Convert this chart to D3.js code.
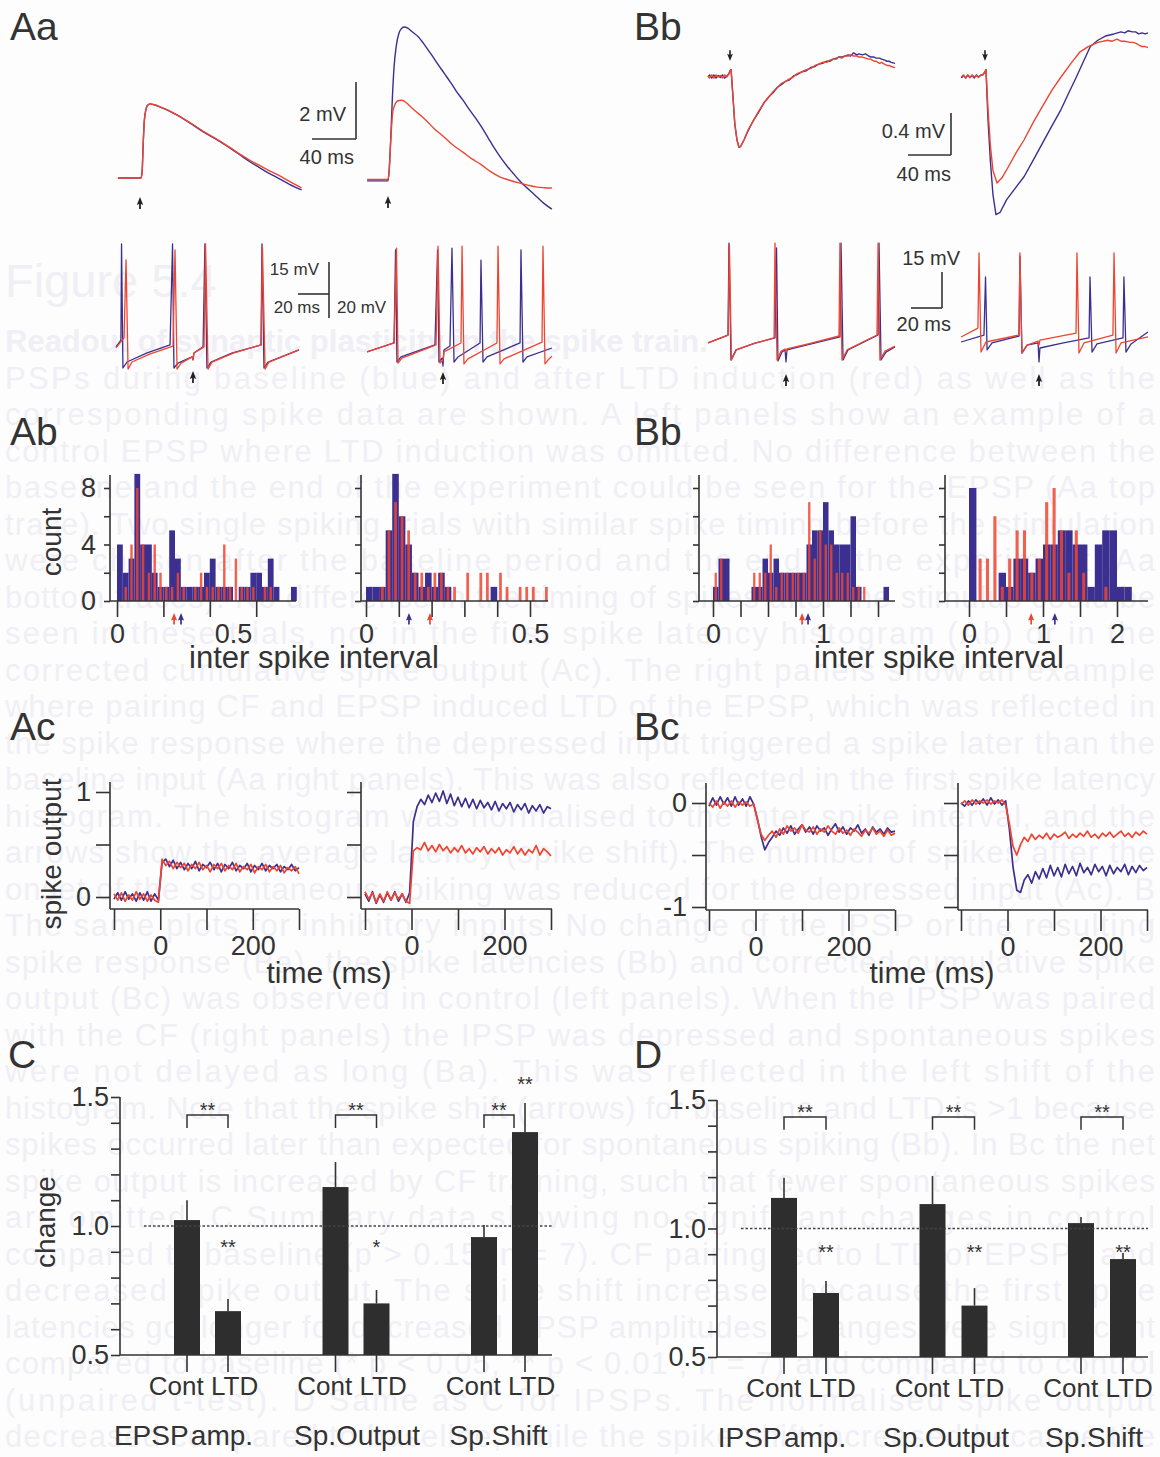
<!DOCTYPE html>
<html><head><meta charset="utf-8">
<script src="https://cdn.jsdelivr.net/npm/d3@7"></script>
<style>
html,body{margin:0;padding:0;background:#fdfdfd;}
svg{display:block;}
text{font-family:"Liberation Sans",Arial,Helvetica,sans-serif;}
</style></head><body>
<svg id="fig" width="1160" height="1457"></svg>
<script>
// ---------- palette ----------
const INK = "#333333", BASE = "#3b2f8f", LTD = "#ee4530", BAR = "#2e2e2e", GHOST = "#f0eff5";

// ---------- legend text printed behind the figure ----------
const legendTitle = "Figure 5.4";
const legendLines = [
 "Readout of synaptic plasticity in the spike train.",
 "PSPs during baseline (blue) and after LTD induction (red) as well as the",
 "corresponding spike data are shown. A left panels show an example of a",
 "control EPSP where LTD induction was omitted. No difference between the",
 "baseline and the end of the experiment could be seen for the EPSP (Aa top",
 "trace). Two single spiking trials with similar spike timing before the stimulation",
 "were chosen after the baseline period and the end of the experiment (Aa",
 "bottom traces). No difference in the timing of spikes after the stimulus could be",
 "seen in these trials, nor in the first spike latency histogram (Ab) or in the",
 "corrected cumulative spike output (Ac). The right panels show an example",
 "where pairing CF and EPSP induced LTD of the EPSP, which was reflected in",
 "the spike response where the depressed input triggered a spike later than the",
 "baseline input (Aa right panels). This was also reflected in the first spike latency",
 "histogram. The histogram was normalised to the inter spike interval, and the",
 "arrows show the average latency (spike shift). The number of spikes after the",
 "onset of the spontaneous spiking was reduced for the depressed input (Ac). B",
 "The same plots for inhibitory inputs. No change of the IPSP or the resulting",
 "spike response (Ba), the spike latencies (Bb) and corrected cumulative spike",
 "output (Bc) was observed in control (left panels). When the IPSP was paired",
 "with the CF (right panels) the IPSP was depressed and spontaneous spikes",
 "were not delayed as long (Ba). This was reflected in the left shift of the",
 "histogram. Note that the spike shift (arrows) for baseline and LTD is >1 because",
 "spikes occurred later than expected for spontaneous spiking (Bb). In Bc the net",
 "spike output is increased by CF training, such that fewer spontaneous spikes",
 "are omitted. C Summary data showing no significant changes in control",
 "compared to baseline (p > 0.15, n = 7). CF pairing led to LTD of EPSPs and",
 "decreased spike output. The spike shift increased because the first spike",
 "latencies got longer for decreased EPSP amplitudes. Changes were significant",
 "compared to baseline (* p < 0.05, ** p < 0.01 , n = 7) and compared to control",
 "(unpaired t-test). D Same as C for IPSPs. The normalised spike output",
 "decreased compared to baseline, while the spike shift increased because the"
];

// ---------- Aa: EPSPs [ms, mV] ----------
const aaEpspCtrlBase = [[-21,0],[0,0],[1,0.2],[2,1.2],[3,2.0],[4.5,2.4],[6,2.55],[8.2,2.6],[12,2.57],[18,2.48],[24,2.38],[32,2.22],[40,2.04],[48,1.84],[57,1.61],[65,1.43],[74,1.22],[82,1.02],[91,0.78],[99,0.57],[107,0.38],[116,0.17],[125,-0.01],[135,-0.22],[146,-0.42]];
const aaEpspCtrlLtd  = [[-21,0],[0,0],[1,0.2],[2,1.2],[3,2.0],[4.5,2.4],[6,2.55],[8.2,2.6],[12,2.57],[18,2.49],[24,2.39],[32,2.23],[40,2.05],[48,1.86],[57,1.63],[65,1.45],[74,1.24],[82,1.04],[91,0.81],[99,0.62],[107,0.46],[116,0.27],[125,0.1],[135,-0.12],[146,-0.35]];
const aaEpspPairBase = [[-19,-0.03],[0,-0.03],[1,0.3],[2.7,1.65],[4,2.9],[5.5,3.96],[7.5,4.7],[10,5.16],[12,5.3],[14.5,5.37],[18,5.33],[22,5.2],[27.7,5.02],[34,4.7],[40,4.37],[45,4.08],[51,3.75],[57,3.42],[62,3.12],[68,2.81],[74,2.47],[80,2.15],[85,1.86],[91,1.48],[96,1.16],[102,0.81],[108,0.5],[113,0.27],[119,0.0],[125,-0.23],[130,-0.4],[135.5,-0.6],[142,-0.83],[149,-1.02]];
const aaEpspPairLtd  = [[-19,0.02],[0,0.02],[1,0.3],[2.7,1.5],[4.2,2.35],[6,2.62],[7.6,2.74],[10,2.79],[12.7,2.8],[17,2.7],[22,2.52],[28,2.32],[34.5,2.1],[42,1.8],[51,1.51],[59,1.23],[68,0.98],[76,0.75],[85,0.53],[93,0.3],[102,0.1],[110,0.0],[119,-0.1],[127,-0.18],[135.5,-0.25],[142,-0.27],[149,-0.28]];

// ---------- Aa: spike trains [ms, mV] ----------
const aaSpkCtrlBase = [[-49.7,-60.1],[-46.5,-56.9],[-46.1,-11.8],[-45.2,-70],[-42.6,-67.2],[-30,-63],[-14.8,-59.2],[-13.2,-11.8],[-12.3,-70],[-9.7,-67.7],[-0.6,-64.8],[0,-66.2],[0.6,-63],[6.5,-60.1],[7.7,-11.8],[9,-70],[11.6,-67.2],[25,-63],[43.9,-59.2],[44.5,-11.8],[45.8,-70],[48.4,-67.2],[68.4,-61.5]];
const aaSpkCtrlLtd  = [[-49.7,-60.6],[-44.5,-55.9],[-43.2,-19.3],[-41.9,-70.5],[-39.4,-67.2],[-28,-63.5],[-12.9,-59.7],[-11.6,-14.6],[-10.3,-70.5],[-7.7,-67.7],[-0.6,-64.8],[0,-66.2],[0.6,-63],[7.1,-60.1],[8.1,-11.8],[9.7,-70.5],[12.3,-67.2],[26,-63],[43.9,-59.2],[44.8,-13.2],[46.5,-70.5],[49,-67.2],[68.4,-61.5]];
const aaSpkPairBase = [[-49,-66.4],[-31.6,-63.2],[-30.6,-30],[-29.7,-70],[-27.1,-68.2],[-5.2,-63.9],[-3.5,-30],[-2.6,-70],[-0.6,-68.6],[0,-71.4],[0.6,-65.7],[4.5,-64.3],[5.8,-29.3],[7.1,-70],[9.7,-68.2],[23.9,-63.2],[24.5,-33.6],[25.8,-70],[28.4,-68.2],[49.7,-63.2],[50.3,-30],[51.6,-70],[54.2,-68.2],[70.3,-65]];
const aaSpkPairLtd  = [[-49,-66.4],[-31.6,-63.2],[-30,-29.3],[-29,-70.4],[-26.5,-68.6],[-4.5,-63.9],[-3.2,-28.6],[-1.9,-70.4],[0,-69.3],[0.6,-66.4],[11.6,-63.2],[12.3,-28.6],[13.5,-70.7],[16.1,-68.9],[34.8,-63.2],[35.5,-28.6],[36.8,-70.7],[39.4,-68.9],[63.9,-62.9],[64.5,-28.6],[65.8,-70.7],[68.4,-68.9],[70.3,-67.9]];

// ---------- Bb: IPSPs [ms, mV] ----------
const bbIpspCtrlBase = [[-20.5,0],[-19,0.02],[-17,-0.01],[-15,0.02],[-13,-0.01],[-11,0.015],[-9,-0.005],[-7,0.02],[-5,-0.01],[-3,0.01],[-1,0.03],[0,0.06],[1,0.07],[2.5,-0.15],[4.5,-0.45],[6.5,-0.6],[8.4,-0.67],[10,-0.66],[13,-0.6],[17,-0.51],[22,-0.41],[27,-0.33],[32,-0.24],[36,-0.19],[40,-0.15],[44,-0.1],[48,-0.07],[52,-0.04],[55,-0.03],[59,0.01],[62,0.02],[67,0.05],[71,0.06],[75,0.09],[79,0.1],[82,0.12],[86,0.13],[90,0.15],[93,0.15],[96,0.17],[99,0.18],[101,0.19],[104,0.19],[107,0.2],[110,0.21],[112,0.2],[115,0.23],[118,0.21],[120,0.22],[123,0.21],[126,0.22],[129,0.2],[131,0.19],[134,0.19],[136,0.18],[139,0.18],[141,0.17],[144,0.16],[146,0.15],[148,0.15],[150,0.14],[153.5,0.13]];
const bbIpspCtrlLtd  = [[-20.5,0.01],[-19,-0.01],[-17,0.02],[-15,-0.01],[-13,0.02],[-11,0.0],[-9,0.015],[-7,-0.01],[-5,0.02],[-3,0.0],[-1,0.03],[0,0.06],[1,0.07],[2.5,-0.15],[4.5,-0.45],[6.5,-0.6],[8.4,-0.67],[10,-0.66],[13,-0.6],[17,-0.5],[22,-0.41],[27,-0.32],[32,-0.24],[36,-0.19],[40,-0.14],[44,-0.1],[48,-0.06],[52,-0.04],[55,-0.02],[59,0.0],[62,0.03],[67,0.05],[71,0.07],[75,0.08],[79,0.11],[82,0.12],[86,0.14],[90,0.14],[93,0.16],[96,0.17],[99,0.17],[101,0.19],[104,0.18],[107,0.2],[110,0.2],[112,0.21],[115,0.2],[118,0.2],[120,0.19],[123,0.19],[126,0.18],[129,0.17],[131,0.17],[134,0.15],[136,0.15],[139,0.13],[141,0.14],[144,0.12],[146,0.11],[148,0.11],[150,0.1],[153.5,0.09]];
const bbIpspPairBase = [[-22,-0.01],[-20,0.015],[-18,-0.01],[-16,0.02],[-14,-0.005],[-12,0.015],[-10,-0.01],[-8,0.02],[-6,0.0],[-4,0.015],[-2,0.02],[0,0.05],[0.9,0.07],[2.8,-0.41],[5,-0.8],[7.4,-1.12],[10.2,-1.31],[14,-1.29],[20,-1.17],[28,-1.06],[36.3,-0.95],[45,-0.79],[54,-0.62],[62,-0.47],[70.7,-0.31],[78,-0.15],[85,0.0],[92.1,0.16],[98,0.29],[105,0.35],[112,0.39],[116,0.4],[120,0.41],[126.5,0.43],[130,0.42],[133,0.44],[137,0.43],[140,0.43],[143,0.41],[146,0.42],[149,0.41],[151.6,0.42]];
const bbIpspPairLtd  = [[-22,0.0],[-20,0.02],[-18,-0.01],[-16,0.015],[-14,-0.005],[-12,0.02],[-10,0.0],[-8,0.015],[-6,-0.005],[-4,0.02],[-2,0.02],[0,0.05],[0.9,0.07],[2.8,-0.31],[5,-0.65],[7.4,-0.89],[11.2,-1.01],[15.8,-0.96],[22,-0.85],[29,-0.72],[36.3,-0.6],[45,-0.43],[54,-0.27],[62,-0.13],[70.7,0.0],[80,0.13],[88.4,0.24],[96,0.29],[105,0.33],[114,0.35],[118,0.34],[122.8,0.36],[127,0.34],[130,0.34],[135,0.33],[138,0.33],[140.5,0.32],[144,0.3],[146,0.29],[149,0.29],[151.6,0.28]];

// ---------- Bb: spike trains [ms, mV] ----------
const bbSpkCtrlBase = [[-50.3,-62.9],[-37.4,-59.6],[-36.8,-21.3],[-35.5,-70],[-32.3,-65.8],[-20,-63],[-7.1,-60.8],[-6.1,-23.3],[-5.2,-70.4],[-2.6,-66.7],[-0.6,-65.8],[0,-70.8],[0.6,-65.8],[15,-63.5],[34.8,-60.4],[35.5,-21.3],[36.8,-70],[40,-65.8],[59.4,-59.6],[60,-21.3],[61.3,-70],[64.5,-66.7],[70.3,-64.6]];
const bbSpkCtrlLtd  = [[-50.3,-62.9],[-37.4,-59.6],[-36.5,-22],[-35.2,-70],[-32,-65.8],[-20,-63],[-7.7,-60.8],[-7.1,-21.3],[-5.8,-70],[-3.2,-66.3],[-0.6,-65.4],[0,-66.7],[0.6,-65.4],[15,-63.2],[34.2,-60],[34.8,-21.3],[36.1,-70],[39.4,-65.8],[58.7,-59.6],[59.4,-21.3],[60.6,-70],[63.9,-66.3],[70.3,-64.2]];
const bbSpkPairBase = [[-50.3,-62.5],[-35.5,-59.6],[-34.5,-35.4],[-33.5,-65.8],[-30.3,-62.9],[-12.9,-60],[-12.3,-26.7],[-11,-67.1],[-7.7,-63.8],[-0.6,-62.9],[0,-70.8],[0.6,-65],[15,-63],[32.3,-60.8],[32.9,-35.4],[34.2,-66.7],[37.4,-63.3],[54.2,-60.8],[54.8,-35.4],[56.1,-66.7],[59.4,-63.3],[70.3,-58.3]];
const bbSpkPairLtd  = [[-50.3,-60.4],[-39.4,-56.7],[-38.7,-25.4],[-37.4,-66.7],[-34.2,-62.5],[-12.9,-59.6],[-12.3,-25.4],[-11,-67.1],[-7.7,-63.8],[-0.6,-62.1],[0,-63.8],[0.6,-61.7],[23.9,-58.8],[24.5,-25.4],[25.8,-67.1],[29,-62.9],[47.7,-59.6],[48.4,-25.4],[49.7,-67.1],[52.9,-62.9],[70.3,-60.4]];

// ---------- Ab / Bb: inter spike interval histograms (counts) ----------
const abCtrlBinWidth = 0.025;
const abCtrlBase = [4,2,3,9,4,4,2,1,1,5,3,1,1,1,1,2,3,1,1,1,0,1,1,2,2,1,3,1,0,0,1];
const abCtrlLtd  = [0,1,4,8,4,2,4,2,1,1,2,1,0,1,2,1,1,1,4,1,3,1,1,1,0,1,1,0,0,0,0];
const abPairBinWidth = 0.02;
const abPairBase = [1,1,1,5,9,6,4,2,1,2,1,2,1,0,0,0,0,0,0,1,0,0,0,0,0,0,0,0];
const abPairLtd  = [0,0,1,5,7,6,5,2,2,1,2,2,1,1,0,2,0,2,2,0,2,1,0,1,1,1,0,1];
const bbCtrlBinWidth = 0.05;
const bbCtrlBase = [1,3,3,0,0,0,0,1,1,3,2,3,2,2,2,2,2,4,5,5,7,5,4,4,4,6,1,0,0,0,0,1];
const bbCtrlLtd  = [2,3,0,0,0,0,0,2,2,2,4,1,2,2,2,2,2,7,3,5,4,4,2,2,2,1,1,1,0,0,0,0];
const bbPairBinWidth = 0.1;
const bbPairBase = [8,0,0,0,2,1,3,3,2,3,4,4,5,5,4,4,1,4,5,5,1,1];
const bbPairLtd  = [0,3,3,6,1,3,5,5,2,3,7,8,5,2,5,2,0,0,1,0,0,0];
// mean spike shift markers [control panel, paired panel]
const abShiftBase = [0.276, 0.131], abShiftLtd = [0.246, 0.195];
const bbShiftBase = [0.864, 1.16],  bbShiftLtd = [0.81, 0.84];

// ---------- Ac / Bc: corrected cumulative spike output, sampled every 8 ms ----------
const cumTime = d3.range(-100, 301, 8);
const acCtrlBase = [-0.02,0.04,-0.03,0.05,-0.02,0.03,-0.04,0.04,-0.03,0.05,
 -0.04,0.03,-0.03,0.33,0.36,0.29,0.35,0.27,0.33,0.26,
 0.32,0.27,0.34,0.25,0.31,0.28,0.33,0.26,0.32,0.24,
 0.31,0.27,0.33,0.25,0.30,0.27,0.32,0.24,0.30,0.26,
 0.32,0.25,0.30,0.27,0.31,0.24,0.29,0.26,0.31,0.25,0.28];
const acCtrlLtd = [0.03,-0.03,0.04,-0.04,0.02,-0.03,0.05,-0.02,0.03,-0.04,
 0.02,-0.03,-0.05,0.36,0.30,0.34,0.27,0.33,0.28,0.32,
 0.25,0.31,0.27,0.33,0.26,0.30,0.24,0.31,0.27,0.32,
 0.25,0.30,0.26,0.32,0.24,0.29,0.26,0.31,0.23,0.29,
 0.26,0.31,0.24,0.29,0.25,0.30,0.23,0.28,0.25,0.29,0.22];
const acPairBase = [0.03,-0.04,0.05,-0.06,0.02,-0.05,0.04,-0.03,0.05,-0.04,
 0.03,-0.05,0.04,0.72,0.86,0.93,0.88,0.97,0.90,0.99,
 0.91,1.01,0.89,0.98,0.87,0.95,0.86,0.94,0.85,0.93,
 0.84,0.92,0.85,0.90,0.83,0.91,0.82,0.89,0.84,0.90,
 0.81,0.88,0.83,0.89,0.80,0.87,0.82,0.88,0.80,0.86,0.84];
const acPairLtd = [0.05,-0.02,0.04,-0.05,0.03,-0.04,0.05,-0.03,0.04,-0.02,
 0.03,-0.04,-0.06,0.44,0.47,0.45,0.52,0.44,0.49,0.43,
 0.50,0.44,0.48,0.42,0.47,0.43,0.49,0.42,0.46,0.41,
 0.47,0.43,0.48,0.41,0.46,0.42,0.47,0.40,0.45,0.42,
 0.48,0.41,0.46,0.40,0.45,0.42,0.49,0.40,0.46,0.43,0.39];
const bcCtrlBase = [-0.03,0.05,-0.02,0.06,-0.01,0.05,-0.03,0.06,-0.02,0.04,
 -0.03,0.06,-0.01,-0.15,-0.32,-0.45,-0.38,-0.33,-0.27,-0.31,
 -0.24,-0.29,-0.22,-0.30,-0.25,-0.21,-0.28,-0.23,-0.30,-0.22,
 -0.27,-0.24,-0.31,-0.25,-0.20,-0.28,-0.23,-0.30,-0.24,-0.27,
 -0.21,-0.29,-0.25,-0.31,-0.23,-0.28,-0.25,-0.30,-0.24,-0.28,-0.27];
const bcCtrlLtd = [0.0,-0.04,0.02,-0.05,0.01,-0.03,0.02,-0.04,0.01,-0.02,
 0.01,-0.03,-0.01,-0.16,-0.30,-0.36,-0.31,-0.27,-0.33,-0.25,
 -0.30,-0.22,-0.27,-0.24,-0.29,-0.21,-0.26,-0.28,-0.23,-0.30,
 -0.25,-0.28,-0.22,-0.27,-0.30,-0.24,-0.29,-0.26,-0.31,-0.25,
 -0.28,-0.32,-0.26,-0.29,-0.24,-0.30,-0.27,-0.32,-0.26,-0.31,-0.29];
const bcPairBase = [0.0,-0.03,0.02,-0.02,0.03,-0.01,0.04,-0.02,0.05,-0.01,
 0.03,-0.02,0.02,-0.25,-0.62,-0.84,-0.86,-0.74,-0.69,-0.77,
 -0.66,-0.73,-0.63,-0.72,-0.60,-0.70,-0.62,-0.71,-0.59,-0.68,
 -0.61,-0.70,-0.58,-0.67,-0.62,-0.69,-0.59,-0.66,-0.61,-0.70,
 -0.60,-0.68,-0.62,-0.66,-0.59,-0.69,-0.61,-0.67,-0.60,-0.65,-0.62];
const bcPairLtd = [-0.01,0.02,-0.02,0.03,-0.01,0.02,0.0,0.03,-0.01,0.02,
 0.0,0.03,-0.02,-0.20,-0.42,-0.50,-0.40,-0.33,-0.37,-0.30,
 -0.35,-0.31,-0.34,-0.29,-0.35,-0.30,-0.33,-0.31,-0.28,-0.34,
 -0.30,-0.33,-0.29,-0.32,-0.27,-0.33,-0.30,-0.34,-0.29,-0.32,
 -0.28,-0.33,-0.30,-0.27,-0.32,-0.29,-0.33,-0.28,-0.31,-0.27,-0.30];

// ---------- C / D: normalised summary (mean, SEM) ----------
const condNames = ["Cont", "LTD"];
const cGroups = ["EPSP amp.", "Sp.Output", "Sp.Shift"];
const cCont = [1.023, 1.151, 0.957], cContErr = [0.077, 0.097, 0.047];
const cLtd  = [0.670, 0.700, 1.364], cLtdErr  = [0.047, 0.052, 0.113];
const cStars = ["**", "*", "**"];
const dGroups = ["IPSP amp.", "Sp.Output", "Sp.Shift"];
const dCont = [1.119, 1.095, 1.021], dContErr = [0.078, 0.109, 0.024];
const dLtd  = [0.749, 0.700, 0.881], dLtdErr  = [0.047, 0.068, 0.024];
const dStars = ["**", "**", "**"];
const bracketStars = "**";

// =====================================================================
const svg = d3.select("#fig");
svg.append("rect").attr("width", 1160).attr("height", 1457).attr("fill", "#fdfdfd");

// legend text layer, very pale
const ghost = svg.append("g").attr("fill", GHOST);
ghost.append("text").attr("x", 5).attr("y", 297).attr("font-size", 47).text(legendTitle);
legendLines.forEach((s, i) => {
  const t = ghost.append("text").attr("x", 5).attr("y", 352 + i * 36.5).attr("font-size", 31).text(s);
  if (i === 0) t.attr("font-weight", "bold");
  else t.attr("textLength", 1150).attr("lengthAdjust", "spacing");
});

const fig = svg.append("g");

function trace(g, pts, xs, ys, color, curve = d3.curveLinear, w = 1.4) {
  g.append("path").datum(pts)
    .attr("fill", "none").attr("stroke", color).attr("stroke-width", w)
    .attr("stroke-linejoin", "round")
    .attr("d", d3.line().x(d => xs(d[0])).y(d => ys(d[1])).curve(curve));
}
// small stimulus arrow; dir = -1 points up (tip at yTip, body below), +1 points down
function arrow(g, x, yTip, dir, color, s = 1) {
  const p = (dx, dy) => `${x + dx * s},${yTip + dir * dy * s}`;
  g.append("path")
    .attr("d", `M${p(0,0)}L${p(3.2,-8)}L${p(0.9,-7)}L${p(0.9,-12)}L${p(-0.9,-12)}L${p(-0.9,-7)}L${p(-3.2,-8)}Z`)
    .attr("fill", color);
}
function label(g, x, y, s, size, anchor = "start", extra = {}) {
  const t = g.append("text").attr("x", x).attr("y", y).attr("font-size", size)
    .attr("fill", INK).attr("text-anchor", anchor).text(s);
  Object.entries(extra).forEach(([k, v]) => t.attr(k, v));
  return t;
}
function vline(g, x, y1, y2, w = 1.6) {
  g.append("line").attr("x1", x).attr("x2", x).attr("y1", y1).attr("y2", y2).attr("stroke", INK).attr("stroke-width", w);
}
function hline(g, y, x1, x2, w = 1.6) {
  g.append("line").attr("x1", x1).attr("x2", x2).attr("y1", y).attr("y2", y).attr("stroke", INK).attr("stroke-width", w);
}
function styleAxis(a, size) {
  a.attr("font-family", null).attr("font-size", null);
  a.select(".domain").remove();
  a.selectAll("line").attr("stroke", INK).attr("stroke-width", 1.6);
  a.selectAll("text").attr("fill", INK).attr("font-size", size);
}
function axisBottom(g, scale, y, ticks, fmt, len, pad, size = 27) {
  const a = g.append("g").attr("transform", `translate(0,${y})`)
    .call(d3.axisBottom(scale).tickValues(ticks).tickSize(len).tickPadding(pad).tickFormat(fmt));
  styleAxis(a, size);
  return a;
}
function axisLeft(g, scale, x, ticks, fmt, len, pad, size = 27) {
  const a = g.append("g").attr("transform", `translate(${x},0)`)
    .call(d3.axisLeft(scale).tickValues(ticks).tickSize(len).tickPadding(pad).tickFormat(fmt));
  styleAxis(a, size);
  return a;
}

// panel letters
[["Aa",10,40],["Bb",634,40],["Ab",10,445],["Bb",634,445],["Ac",10,740],["Bc",634,740],["C",8,1068],["D",634,1068]]
  .forEach(([s, x, y]) => label(fig, x, y, s, 39));

// ---------------- Aa top: EPSPs ----------------
{
  const g = fig.append("g");
  const xL = d3.scaleLinear().domain([0, 40]).range([141, 185]);
  const xR = d3.scaleLinear().domain([0, 40]).range([388, 432]);
  const yL = d3.scaleLinear().domain([0, 2]).range([178, 121]);
  const yR = d3.scaleLinear().domain([0, 2]).range([180, 123]);
  const c = d3.curveMonotoneX;
  trace(g, aaEpspCtrlBase, xL, yL, BASE, c);
  trace(g, aaEpspCtrlLtd, xL, yL, LTD, c);
  trace(g, aaEpspPairBase, xR, yR, BASE, c);
  trace(g, aaEpspPairLtd, xR, yR, LTD, c);
  arrow(g, xL(0) - 1, 197, -1, "#222");
  arrow(g, xR(0), 196, -1, "#222");
  // scale bar 40 ms / 2 mV
  const bx = 356, by = 139;
  vline(g, bx, by - (yR(0) - yR(2)), by);
  hline(g, by, bx - (xR(40) - xR(0)), bx);
  label(g, 346, 121, "2 mV", 20, "end");
  label(g, 354, 164, "40 ms", 20, "end");
}

// ---------------- Aa bottom: spike trains ----------------
{
  const g = fig.append("g");
  const xL = d3.scaleLinear().domain([0, 20]).range([193, 224]);
  const xR = d3.scaleLinear().domain([0, 20]).range([443, 474]);
  const yL = d3.scaleLinear().domain([-70, -55]).range([368, 336]);
  const yR = d3.scaleLinear().domain([-70, -50]).range([362, 306]);
  trace(g, aaSpkCtrlBase, xL, yL, BASE, d3.curveLinear, 1.3);
  trace(g, aaSpkCtrlLtd, xL, yL, LTD, d3.curveLinear, 1.3);
  trace(g, aaSpkPairBase, xR, yR, BASE, d3.curveLinear, 1.3);
  trace(g, aaSpkPairLtd, xR, yR, LTD, d3.curveLinear, 1.3);
  arrow(g, xL(0), 371, -1, "#222");
  arrow(g, xR(0), 372, -1, "#222");
  const bx = 329, top = 262;
  vline(g, bx, top, top + (yR(-70) - yR(-50)));
  hline(g, top + (yL(-70) - yL(-55)), bx - (xL(20) - xL(0)), bx);
  label(g, 319, 275, "15 mV", 17, "end");
  label(g, 320, 313, "20 ms", 17, "end");
  label(g, 337, 313, "20 mV", 17, "start");
}

// ---------------- Bb top: IPSPs ----------------
{
  const g = fig.append("g");
  const xL = d3.scaleLinear().domain([0, 40]).range([730, 773]);
  const xR = d3.scaleLinear().domain([0, 40]).range([985, 1028]);
  const y = d3.scaleLinear().domain([0, 0.4]).range([77, 35]);
  trace(g, bbIpspCtrlBase, xL, y, BASE, d3.curveLinear, 1.4);
  trace(g, bbIpspCtrlLtd, xL, y, LTD, d3.curveLinear, 1.4);
  trace(g, bbIpspPairBase, xR, y, BASE, d3.curveLinear, 1.4);
  trace(g, bbIpspPairLtd, xR, y, LTD, d3.curveLinear, 1.4);
  arrow(g, xL(0), 61, 1, "#222", 0.9);
  arrow(g, xR(0), 61, 1, "#222", 0.9);
  const bx = 951, by = 155;
  vline(g, bx, by - (y(0) - y(0.4)), by);
  hline(g, by, bx - (xL(40) - xL(0)), bx);
  label(g, 945, 138, "0.4 mV", 20, "end");
  label(g, 951, 181, "40 ms", 20, "end");
}

// ---------------- Bb bottom: spike trains ----------------
{
  const g = fig.append("g");
  const xL = d3.scaleLinear().domain([0, 20]).range([786, 817]);
  const xR = d3.scaleLinear().domain([0, 20]).range([1039, 1070]);
  const y = d3.scaleLinear().domain([-70, -55]).range([360, 324]);
  trace(g, bbSpkCtrlBase, xL, y, BASE, d3.curveLinear, 1.3);
  trace(g, bbSpkCtrlLtd, xL, y, LTD, d3.curveLinear, 1.3);
  trace(g, bbSpkPairBase, xR, y, BASE, d3.curveLinear, 1.3);
  trace(g, bbSpkPairLtd, xR, y, LTD, d3.curveLinear, 1.3);
  arrow(g, xL(0), 374, -1, "#222");
  arrow(g, xR(0), 374, -1, "#222");
  const bx = 942, by = 308;
  vline(g, bx, by - (y(-70) - y(-55)), by);
  hline(g, by, bx - (xL(20) - xL(0)), bx);
  label(g, 960, 265, "15 mV", 20, "end");
  label(g, 951, 331, "20 ms", 20, "end");
}

// ---------------- histograms ----------------
const yHist = d3.scaleLinear().domain([0, 8]).range([601, 488]);
function histPanel(g, xs, axisX0, axisX1, binW, base, ltd, shiftB, shiftL, xTicks, xLabels, yLabels) {
  const bars = (counts, color, frac, op) => g.append("g").selectAll("rect")
    .data(counts.map((c, i) => ({ x0: i * binW, c })).filter(d => d.c > 0))
    .join("rect")
    .attr("x", d => xs(d.x0 + binW * (1 - frac) / 2))
    .attr("width", d => xs(d.x0 + binW * (1 + frac) / 2) - xs(d.x0 + binW * (1 - frac) / 2))
    .attr("y", d => yHist(d.c)).attr("height", d => yHist(0) - yHist(d.c))
    .attr("fill", color).attr("fill-opacity", op);
  bars(base, BASE, 1, 1);
  bars(ltd, LTD, 0.42, 0.85);
  vline(g, axisX0, 475, 601);
  hline(g, 601, axisX0, axisX1);
  axisLeft(g, yHist, axisX0, [0, 2, 4, 6, 8], d => yLabels && d % 4 === 0 ? d : "", 6, 8);
  axisBottom(g, xs, 601, xTicks, () => "", 16, 6);
  axisBottom(g, xs, 601, xLabels, d => d, 0, 23);
  arrow(g, xs(shiftL), 613, -1, LTD, 0.95);
  arrow(g, xs(shiftB), 613, -1, BASE, 0.95);
}
histPanel(fig.append("g"), d3.scaleLinear().domain([0, 0.5]).range([117, 233]), 110, 296,
  abCtrlBinWidth, abCtrlBase, abCtrlLtd, abShiftBase[0], abShiftLtd[0], [0, 0.2, 0.4, 0.6], [0, 0.5], true);
histPanel(fig.append("g"), d3.scaleLinear().domain([0, 0.5]).range([366, 530]), 361, 548,
  abPairBinWidth, abPairBase, abPairLtd, abShiftBase[1], abShiftLtd[1], [0, 0.1, 0.2, 0.3, 0.4, 0.5], [0, 0.5], false);
histPanel(fig.append("g"), d3.scaleLinear().domain([0, 1]).range([713, 823]), 699, 895,
  bbCtrlBinWidth, bbCtrlBase, bbCtrlLtd, bbShiftBase[0], bbShiftLtd[0], [0, 0.25, 0.5, 0.75, 1, 1.25, 1.5], [0, 1], false);
histPanel(fig.append("g"), d3.scaleLinear().domain([0, 1]).range([969, 1043]), 945, 1148,
  bbPairBinWidth, bbPairBase, bbPairLtd, bbShiftBase[1], bbShiftLtd[1], [0, 0.5, 1, 1.5, 2], [0, 1, 2], false);
label(fig, 0, 0, "count", 28, "middle", { transform: "translate(61,542) rotate(-90)" });
label(fig, 314, 668, "inter spike interval", 31, "middle");
label(fig, 939, 668, "inter spike interval", 31, "middle");

// ---------------- cumulative spike output ----------------
function cumPanel(g, xs, ys, axisX, axisTop, axisBottomY, axisRight, base, ltd, yTicks, yFmt) {
  const pts = arr => arr.map((v, i) => [cumTime[i], v]);
  trace(g, pts(base), xs, ys, BASE, d3.curveLinear, 1.7);
  trace(g, pts(ltd), xs, ys, LTD, d3.curveLinear, 1.7);
  vline(g, axisX, axisTop, axisBottomY);
  hline(g, axisBottomY, axisX, axisRight);
  axisLeft(g, ys, axisX, yTicks, yFmt, 14, 5);
  axisBottom(g, xs, axisBottomY, [-100, 0, 100, 200, 300], d => (d === 0 || d === 200) ? d : "", 21, 6);
}
const yAc = d3.scaleLinear().domain([0, 1]).range([897, 792]);
const yBc = d3.scaleLinear().domain([0, -1]).range([803, 907]);
cumPanel(fig.append("g"), d3.scaleLinear().domain([-100, 300]).range([114, 299]), yAc, 110, 782, 909, 299,
  acCtrlBase, acCtrlLtd, [0, 0.5, 1], d => d === 0.5 ? "" : d);
cumPanel(fig.append("g"), d3.scaleLinear().domain([-100, 300]).range([365, 551]), yAc, 361, 782, 909, 552,
  acPairBase, acPairLtd, [0, 0.5, 1], () => "");
cumPanel(fig.append("g"), d3.scaleLinear().domain([-100, 300]).range([709, 895]), yBc, 706, 783, 910, 895,
  bcCtrlBase, bcCtrlLtd, [0, -0.5, -1], d => d === -0.5 ? "" : d);
cumPanel(fig.append("g"), d3.scaleLinear().domain([-100, 300]).range([961, 1147]), yBc, 958, 783, 910, 1148,
  bcPairBase, bcPairLtd, [0, -0.5, -1], () => "");
label(fig, 0, 0, "spike output", 28, "middle", { transform: "translate(61,854) rotate(-90)" });
label(fig, 329, 983, "time (ms)", 30, "middle");
label(fig, 932, 983, "time (ms)", 30, "middle");

// ---------------- summary bar charts ----------------
function summary(g, groups, cont, contErr, ltd, ltdErr, stars, o) {
  const y = d3.scaleLinear().domain([0.5, 1.5]).range([o.y0, o.y1]);
  const outer = d3.scaleBand().domain(groups).range([o.gx0, o.gx0 + 3 * 148.5]);
  const inner = d3.scalePoint().domain(condNames).range([-o.half, o.half]);
  const cx = (gName, cond) => outer(gName) + outer.bandwidth() / 2 + inner(cond);
  const rows = [];
  groups.forEach((gName, i) => {
    rows.push({ gName, cond: "Cont", v: cont[i], e: contErr[i] });
    rows.push({ gName, cond: "LTD", v: ltd[i], e: ltdErr[i] });
  });
  const bw = 26;
  // error bars (upper whisker) and bars
  g.append("g").selectAll("line").data(rows).join("line")
    .attr("x1", d => cx(d.gName, d.cond)).attr("x2", d => cx(d.gName, d.cond))
    .attr("y1", d => y(d.v)).attr("y2", d => y(d.v + d.e))
    .attr("stroke", INK).attr("stroke-width", 1.6);
  g.append("g").selectAll("rect").data(rows).join("rect")
    .attr("x", d => cx(d.gName, d.cond) - bw / 2).attr("width", bw)
    .attr("y", d => y(d.v)).attr("height", d => y(0.5) - y(d.v))
    .attr("fill", BAR);
  // reference line at 1.0
  g.append("line").attr("x1", o.dashX0).attr("x2", o.axisX1).attr("y1", y(1)).attr("y2", y(1))
    .attr("stroke", "#444").attr("stroke-width", 1.4).attr("stroke-dasharray", "2.5,2");
  // axes
  vline(g, o.axisX0, y(1.5), y(0.5));
  hline(g, y(0.5), o.axisX0, o.axisX1);
  axisLeft(g, y, o.axisX0, d3.range(0.5, 1.51, 0.1).map(v => +v.toFixed(1)),
    d => (Math.abs(d - 0.5) < 1e-6 || Math.abs(d - 1) < 1e-6 || Math.abs(d - 1.5) < 1e-6) ? d3.format(".1f")(d) : "", 9, 2);
  // category ticks below the axis
  g.append("g").selectAll("line").data(rows).join("line")
    .attr("x1", d => cx(d.gName, d.cond)).attr("x2", d => cx(d.gName, d.cond))
    .attr("y1", y(0.5)).attr("y2", y(0.5) + 17).attr("stroke", INK).attr("stroke-width", 1.6);
  // significance brackets and labels
  groups.forEach((gName, i) => {
    const xa = cx(gName, "Cont"), xb = cx(gName, "LTD") - (o.shortBracket[i] || 0);
    const yb = y(o.bracketLevel), yd = y(o.bracketLevel - 0.05);
    g.append("path").attr("d", `M${xa},${yd}V${yb}H${xb}V${yd}`)
      .attr("fill", "none").attr("stroke", INK).attr("stroke-width", 1.5);
    label(g, (xa + xb) / 2, yb + 2, bracketStars, 20, "middle");
    label(g, cx(gName, "LTD"), y(o.starLevel[i]) + 11, stars[i], 20, "middle");
    label(g, outer(gName) + outer.bandwidth() / 2 - 4, o.catY, condNames.join(" "), 26, "middle");
    label(g, outer(gName) + outer.bandwidth() / 2 + o.groupDx[i], o.groupY, gName, 28, "middle",
      { "word-spacing": "-5px" });
  });
}
summary(fig.append("g"), cGroups, cCont, cContErr, cLtd, cLtdErr, cStars, {
  y0: 1355, y1: 1097, gx0: 133.25, half: 20.5, axisX0: 120, axisX1: 552, dashX0: 144,
  bracketLevel: 1.43, starLevel: [0.934, 0.934, 1.565], shortBracket: [0, 0, 11],
  catY: 1395, groupY: 1445, groupDx: [-24, 1, -6]
});
summary(fig.append("g"), dGroups, dCont, dContErr, dLtd, dLtdErr, dStars, {
  y0: 1357, y1: 1100, gx0: 730.75, half: 21, axisX0: 717, axisX1: 1148, dashX0: 741,
  bracketLevel: 1.434, starLevel: [0.924, 0.924, 0.924], shortBracket: [0, 0, 0],
  catY: 1397, groupY: 1447, groupDx: [-23, -7.5, -8]
});
label(fig, 0, 0, "change", 28, "middle", { transform: "translate(55,1222) rotate(-90)" });
</script></body></html>
